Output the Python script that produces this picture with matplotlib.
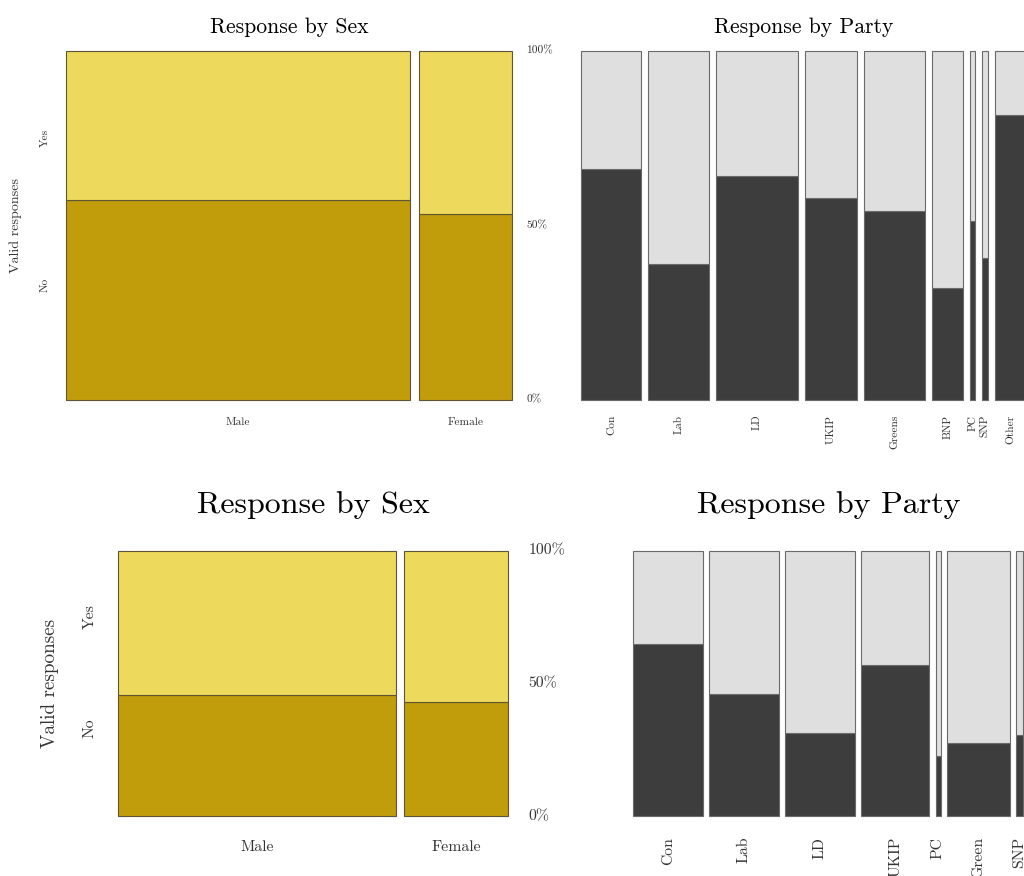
import matplotlib
matplotlib.use("Agg")
import matplotlib.pyplot as plt
import numpy as np

plt.rcParams["font.family"] = "cmr10"
plt.rcParams["axes.unicode_minus"] = False
plt.rcParams["axes.formatter.use_mathtext"] = True

# ---- data ----
response_labels = ["No", "Yes"]
pct_ticks = [0, 0.5, 1]
pct_labels = ["0%", "50%", "100%"]

sex_labels = ["Male", "Female"]
sex_share_top = [0.787, 0.213]
sex_no_top = [0.573, 0.532]

party_labels_top = ["Con", "Lab", "LD", "UKIP", "Greens", "BNP", "PC", "SNP", "Other"]
party_share_top = [0.155, 0.156, 0.209, 0.135, 0.155, 0.080, 0.012, 0.017, 0.080]
party_no_top = [0.661, 0.389, 0.641, 0.578, 0.541, 0.319, 0.512, 0.407, 0.816]

sex_share_bottom = [0.727, 0.273]
sex_no_bottom = [0.456, 0.429]

party_labels_bottom = ["Con", "Lab", "LD", "UKIP", "PC", "Green", "SNP"]
party_share_bottom = [0.197, 0.198, 0.199, 0.193, 0.014, 0.178, 0.021]
party_no_bottom = [0.649, 0.459, 0.311, 0.569, 0.228, 0.275, 0.306]

GOLD_DARK, GOLD_LIGHT, SEX_EDGE = "#c19c0b", "#edd95b", "#5f5535"
GREY_DARK, GREY_LIGHT, PARTY_EDGE = "#3d3d3d", "#dfdfdf", "#6a6a6a"


def mosaic(ax, share, no, dark, light, edge, gap):
    share = np.asarray(share, float)
    no = np.asarray(no, float)
    left = np.concatenate([[0], np.cumsum(share[:-1])]) + gap * np.arange(len(share))
    ax.bar(left, no, width=share, align="edge", color=dark,
           edgecolor=edge, linewidth=0.8, clip_on=False)
    ax.bar(left, 1 - no, bottom=no, width=share, align="edge", color=light,
           edgecolor=edge, linewidth=0.8, clip_on=False)
    ax.set_xlim(0, 1 + gap * (len(share) - 1))
    ax.set_ylim(0, 1)
    for s in ax.spines.values():
        s.set_visible(False)
    ax.set_xticks([])
    ax.set_yticks([])
    return left + share / 2


def sex_panel(ax, share, no, sz):
    centers = mosaic(ax, share, no, GOLD_DARK, GOLD_LIGHT, SEX_EDGE, 0.02)
    ax.set_title("Response by Sex", fontsize=sz["title"], pad=sz["tpad"])
    for c, lab in zip(centers, sex_labels):
        ax.annotate(lab, xy=(c, 0), xycoords=("data", "axes fraction"),
                    xytext=(0, -sz["xoff"]), textcoords="offset points",
                    ha="center", va="center", fontsize=sz["tick"], color="#333333")
    for y, lab in zip(pct_ticks, pct_labels):
        ax.annotate(lab, xy=(1, y), xycoords="axes fraction",
                    xytext=(sz["roff"], 0), textcoords="offset points",
                    ha="left", va="center", fontsize=sz["tick"], color="#333333")
    for y, lab in zip([0.33, 0.75], response_labels):
        ax.annotate(lab, xy=(0, y), xycoords="axes fraction",
                    xytext=(-sz["yoff"], 0), textcoords="offset points",
                    ha="center", va="center", rotation=90,
                    fontsize=sz["tick"], color="#333333")
    ax.annotate("Valid responses", xy=(0, 0.5), xycoords="axes fraction",
                xytext=(-sz["loff"], 0), textcoords="offset points",
                ha="center", va="center", rotation=90,
                fontsize=sz["ylab"], color="#333333")


def party_panel(ax, labels, share, no, sz):
    centers = mosaic(ax, share, no, GREY_DARK, GREY_LIGHT, PARTY_EDGE, 0.018)
    ax.set_title("Response by Party", fontsize=sz["title"], pad=sz["tpad"])
    for c, lab in zip(centers, labels):
        ax.annotate(lab, xy=(c, 0), xycoords=("data", "axes fraction"),
                    xytext=(0, -sz["poff"]), textcoords="offset points",
                    ha="center", va="top", rotation=90,
                    fontsize=sz["tick"], color="#333333")


top = dict(title=15.6, tpad=13, tick=8.2, ylab=10.1, xoff=16.3, roff=10.6,
           yoff=15, loff=36, poff=10.8)
bottom = dict(title=23, tpad=27, tick=11.3, ylab=13.8, xoff=22.1, roff=14.4,
              yoff=20.4, loff=49, poff=14.9)

fig = plt.figure(figsize=(10.24, 8.76), dpi=100)

ax1 = fig.add_axes([66 / 1024, 1 - 399.7 / 876, 446 / 1024, 349 / 876])
ax2 = fig.add_axes([581 / 1024, 1 - 399.7 / 876, 446 / 1024, 349 / 876])
ax3 = fig.add_axes([118.3 / 1024, 1 - 816 / 876, 390 / 1024, 265.3 / 876])
ax4 = fig.add_axes([633.3 / 1024, 1 - 816 / 876, 390 / 1024, 265.3 / 876])

sex_panel(ax1, sex_share_top, sex_no_top, top)
party_panel(ax2, party_labels_top, party_share_top, party_no_top, top)
sex_panel(ax3, sex_share_bottom, sex_no_bottom, bottom)
party_panel(ax4, party_labels_bottom, party_share_bottom, party_no_bottom, bottom)

fig.savefig("out.png", dpi=100)
